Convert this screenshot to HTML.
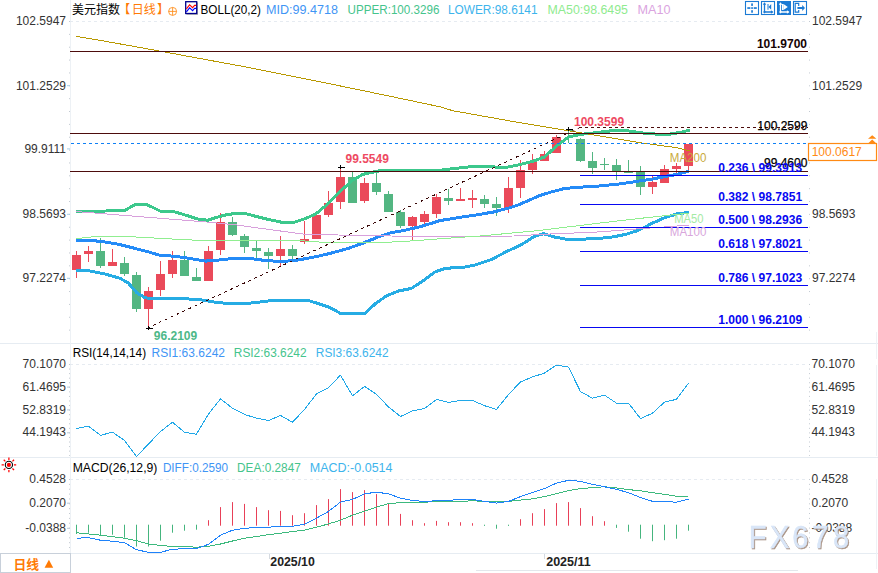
<!DOCTYPE html><html><head><meta charset="utf-8"><title>chart</title><style>html,body{margin:0;padding:0;background:#fff;}body{width:878px;height:573px;overflow:hidden;font-family:"Liberation Sans",sans-serif;}</style></head><body><svg width="878" height="573" viewBox="0 0 878 573" style="display:block">
<rect width="878" height="573" fill="#ffffff"/>
<line x1="0" y1="343.5" x2="878" y2="343.5" stroke="#e6ecf2" stroke-width="1"/>
<line x1="0" y1="457.5" x2="878" y2="457.5" stroke="#e6ecf2" stroke-width="1"/>
<line x1="0" y1="553.5" x2="878" y2="553.5" stroke="#e6ecf2" stroke-width="1"/>
<line x1="70.5" y1="0" x2="70.5" y2="573" stroke="#edf1f5" stroke-width="1"/>
<rect x="876" y="332" width="1" height="27" fill="#eef2f6"/>
<rect x="876" y="365" width="1" height="91" fill="#eef2f6"/>
<rect x="876" y="479" width="1" height="90" fill="#eef2f6"/>
<line x1="69.5" y1="21" x2="69.5" y2="342" stroke="#c3cad2" stroke-width="1" stroke-dasharray="1 11.86"/>
<line x1="69.5" y1="364" x2="69.5" y2="456" stroke="#c3cad2" stroke-width="1" stroke-dasharray="1 3.56"/>
<line x1="69.5" y1="479" x2="69.5" y2="552" stroke="#c3cad2" stroke-width="1" stroke-dasharray="1 3.86"/>
<line x1="809.5" y1="21" x2="809.5" y2="342" stroke="#c3cad2" stroke-width="1" stroke-dasharray="1 11.86"/>
<line x1="809.5" y1="364" x2="809.5" y2="456" stroke="#c3cad2" stroke-width="1" stroke-dasharray="1 3.56"/>
<line x1="809.5" y1="479" x2="809.5" y2="552" stroke="#c3cad2" stroke-width="1" stroke-dasharray="1 3.86"/>
<line x1="70" y1="21.5" x2="808" y2="21.5" stroke="#e6ebf1" stroke-width="1" stroke-dasharray="3 3"/>
<line x1="70" y1="364.5" x2="808" y2="364.5" stroke="#e6ebf1" stroke-width="1" stroke-dasharray="3 3"/>
<line x1="70" y1="479.5" x2="808" y2="479.5" stroke="#e6ebf1" stroke-width="1" stroke-dasharray="3 3"/>
<text x="66" y="25.3" fill="#333333" font-size="12" font-weight="normal" text-anchor="end" font-family="'Liberation Sans', sans-serif" >102.5947</text>
<text x="812" y="25.3" fill="#333333" font-size="12" font-weight="normal" text-anchor="start" font-family="'Liberation Sans', sans-serif" >102.5947</text>
<text x="66" y="89.5" fill="#333333" font-size="12" font-weight="normal" text-anchor="end" font-family="'Liberation Sans', sans-serif" >101.2529</text>
<text x="812" y="89.5" fill="#333333" font-size="12" font-weight="normal" text-anchor="start" font-family="'Liberation Sans', sans-serif" >101.2529</text>
<line x1="67" y1="85.7" x2="70" y2="85.7" stroke="#a8cfe8" stroke-width="1"/>
<text x="66" y="152.70000000000002" fill="#333333" font-size="12" font-weight="normal" text-anchor="end" font-family="'Liberation Sans', sans-serif" >99.9111</text>
<text x="812" y="152.70000000000002" fill="#333333" font-size="12" font-weight="normal" text-anchor="start" font-family="'Liberation Sans', sans-serif" >99.9111</text>
<line x1="67" y1="148.9" x2="70" y2="148.9" stroke="#a8cfe8" stroke-width="1"/>
<text x="66" y="218.10000000000002" fill="#333333" font-size="12" font-weight="normal" text-anchor="end" font-family="'Liberation Sans', sans-serif" >98.5693</text>
<text x="812" y="218.10000000000002" fill="#333333" font-size="12" font-weight="normal" text-anchor="start" font-family="'Liberation Sans', sans-serif" >98.5693</text>
<line x1="67" y1="214.3" x2="70" y2="214.3" stroke="#a8cfe8" stroke-width="1"/>
<text x="66" y="282.1" fill="#333333" font-size="12" font-weight="normal" text-anchor="end" font-family="'Liberation Sans', sans-serif" >97.2274</text>
<text x="812" y="282.1" fill="#333333" font-size="12" font-weight="normal" text-anchor="start" font-family="'Liberation Sans', sans-serif" >97.2274</text>
<line x1="67" y1="278.3" x2="70" y2="278.3" stroke="#a8cfe8" stroke-width="1"/>
<text x="66" y="368.1" fill="#333333" font-size="12" font-weight="normal" text-anchor="end" font-family="'Liberation Sans', sans-serif" >70.1070</text>
<text x="811.5" y="368.1" fill="#333333" font-size="12" font-weight="normal" text-anchor="start" font-family="'Liberation Sans', sans-serif" >70.1070</text>
<text x="66" y="390.7" fill="#333333" font-size="12" font-weight="normal" text-anchor="end" font-family="'Liberation Sans', sans-serif" >61.4695</text>
<text x="811.5" y="390.7" fill="#333333" font-size="12" font-weight="normal" text-anchor="start" font-family="'Liberation Sans', sans-serif" >61.4695</text>
<line x1="67" y1="387.1" x2="70" y2="387.1" stroke="#b9c9d8" stroke-width="1"/>
<text x="66" y="413.5" fill="#333333" font-size="12" font-weight="normal" text-anchor="end" font-family="'Liberation Sans', sans-serif" >52.8319</text>
<text x="811.5" y="413.5" fill="#333333" font-size="12" font-weight="normal" text-anchor="start" font-family="'Liberation Sans', sans-serif" >52.8319</text>
<line x1="67" y1="409.9" x2="70" y2="409.9" stroke="#b9c9d8" stroke-width="1"/>
<text x="66" y="436.40000000000003" fill="#333333" font-size="12" font-weight="normal" text-anchor="end" font-family="'Liberation Sans', sans-serif" >44.1943</text>
<text x="811.5" y="436.40000000000003" fill="#333333" font-size="12" font-weight="normal" text-anchor="start" font-family="'Liberation Sans', sans-serif" >44.1943</text>
<line x1="67" y1="432.8" x2="70" y2="432.8" stroke="#b9c9d8" stroke-width="1"/>
<text x="66" y="483.0" fill="#333333" font-size="12" font-weight="normal" text-anchor="end" font-family="'Liberation Sans', sans-serif" >0.4528</text>
<text x="811.5" y="483.0" fill="#333333" font-size="12" font-weight="normal" text-anchor="start" font-family="'Liberation Sans', sans-serif" >0.4528</text>
<text x="66" y="506.8" fill="#333333" font-size="12" font-weight="normal" text-anchor="end" font-family="'Liberation Sans', sans-serif" >0.2070</text>
<text x="811.5" y="506.8" fill="#333333" font-size="12" font-weight="normal" text-anchor="start" font-family="'Liberation Sans', sans-serif" >0.2070</text>
<line x1="67" y1="503.2" x2="70" y2="503.2" stroke="#b9c9d8" stroke-width="1"/>
<text x="66" y="531.9" fill="#333333" font-size="12" font-weight="normal" text-anchor="end" font-family="'Liberation Sans', sans-serif" >-0.0388</text>
<text x="811.5" y="531.9" fill="#333333" font-size="12" font-weight="normal" text-anchor="start" font-family="'Liberation Sans', sans-serif" >-0.0388</text>
<line x1="67" y1="528.3" x2="70" y2="528.3" stroke="#b9c9d8" stroke-width="1"/>
<rect x="76" y="251" width="1" height="27" fill="#ea4a5a"/>
<rect x="72" y="255" width="9" height="15" fill="#ea4a5a"/>
<rect x="88" y="246" width="1" height="16" fill="#ea4a5a"/>
<rect x="84" y="251" width="9" height="3" fill="#ea4a5a"/>
<rect x="100" y="238" width="1" height="30" fill="#53b682"/>
<rect x="96" y="251" width="9" height="15" fill="#53b682"/>
<rect x="112" y="249" width="1" height="17" fill="#ea4a5a"/>
<rect x="108" y="262" width="9" height="4" fill="#ea4a5a"/>
<rect x="124" y="257" width="1" height="19" fill="#53b682"/>
<rect x="120" y="263" width="9" height="11" fill="#53b682"/>
<rect x="136" y="272" width="1" height="40" fill="#53b682"/>
<rect x="132" y="275" width="9" height="34" fill="#53b682"/>
<rect x="148" y="287" width="1" height="41" fill="#ea4a5a"/>
<rect x="144" y="291" width="9" height="18" fill="#ea4a5a"/>
<rect x="160" y="261" width="1" height="35" fill="#ea4a5a"/>
<rect x="156" y="274" width="9" height="16" fill="#ea4a5a"/>
<rect x="172" y="251" width="1" height="27" fill="#ea4a5a"/>
<rect x="168" y="260" width="9" height="14" fill="#ea4a5a"/>
<rect x="184" y="251" width="1" height="25" fill="#53b682"/>
<rect x="180" y="260" width="9" height="16" fill="#53b682"/>
<rect x="196" y="268" width="1" height="13" fill="#53b682"/>
<rect x="192" y="277" width="9" height="4" fill="#53b682"/>
<rect x="208" y="246" width="1" height="35" fill="#ea4a5a"/>
<rect x="204" y="251" width="9" height="30" fill="#ea4a5a"/>
<rect x="220" y="213" width="1" height="42" fill="#ea4a5a"/>
<rect x="216" y="222" width="9" height="28" fill="#ea4a5a"/>
<rect x="232" y="217" width="1" height="19" fill="#53b682"/>
<rect x="228" y="222" width="9" height="13" fill="#53b682"/>
<rect x="244" y="234" width="1" height="19" fill="#53b682"/>
<rect x="240" y="236" width="9" height="11" fill="#53b682"/>
<rect x="256" y="240" width="1" height="18" fill="#53b682"/>
<rect x="252" y="248" width="9" height="3" fill="#53b682"/>
<rect x="268" y="248" width="1" height="21" fill="#53b682"/>
<rect x="264" y="252" width="9" height="4" fill="#53b682"/>
<rect x="280" y="236" width="1" height="31" fill="#ea4a5a"/>
<rect x="276" y="249" width="9" height="7" fill="#ea4a5a"/>
<rect x="292" y="245" width="1" height="15" fill="#53b682"/>
<rect x="288" y="249" width="9" height="7" fill="#53b682"/>
<rect x="304" y="221" width="1" height="23" fill="#ea4a5a"/>
<rect x="300" y="239" width="9" height="3" fill="#ea4a5a"/>
<rect x="316" y="215" width="1" height="24" fill="#ea4a5a"/>
<rect x="312" y="215" width="9" height="24" fill="#ea4a5a"/>
<rect x="328" y="191" width="1" height="26" fill="#ea4a5a"/>
<rect x="324" y="203" width="9" height="12" fill="#ea4a5a"/>
<rect x="340" y="168" width="1" height="41" fill="#ea4a5a"/>
<rect x="336" y="177" width="9" height="25" fill="#ea4a5a"/>
<rect x="352" y="172" width="1" height="31" fill="#53b682"/>
<rect x="348" y="177" width="9" height="26" fill="#53b682"/>
<rect x="364" y="178" width="1" height="25" fill="#ea4a5a"/>
<rect x="360" y="183" width="9" height="18" fill="#ea4a5a"/>
<rect x="376" y="172" width="1" height="23" fill="#53b682"/>
<rect x="372" y="183" width="9" height="9" fill="#53b682"/>
<rect x="388" y="191" width="1" height="21" fill="#53b682"/>
<rect x="384" y="194" width="9" height="18" fill="#53b682"/>
<rect x="400" y="210" width="1" height="18" fill="#53b682"/>
<rect x="396" y="212" width="9" height="14" fill="#53b682"/>
<rect x="412" y="216" width="1" height="25" fill="#ea4a5a"/>
<rect x="408" y="217" width="9" height="9" fill="#ea4a5a"/>
<rect x="424" y="211" width="1" height="13" fill="#ea4a5a"/>
<rect x="420" y="214" width="9" height="8" fill="#ea4a5a"/>
<rect x="436" y="194" width="1" height="24" fill="#ea4a5a"/>
<rect x="432" y="197" width="9" height="17" fill="#ea4a5a"/>
<rect x="448" y="189" width="1" height="16" fill="#53b682"/>
<rect x="444" y="198" width="9" height="3" fill="#53b682"/>
<rect x="460" y="188" width="1" height="13" fill="#ea4a5a"/>
<rect x="456" y="199" width="9" height="2" fill="#ea4a5a"/>
<rect x="472" y="190" width="1" height="18" fill="#ea4a5a"/>
<rect x="468" y="198" width="9" height="2" fill="#ea4a5a"/>
<rect x="484" y="195" width="1" height="13" fill="#53b682"/>
<rect x="480" y="199" width="9" height="5" fill="#53b682"/>
<rect x="496" y="197" width="1" height="19" fill="#53b682"/>
<rect x="492" y="204" width="9" height="4" fill="#53b682"/>
<rect x="508" y="177" width="1" height="36" fill="#ea4a5a"/>
<rect x="504" y="188" width="9" height="20" fill="#ea4a5a"/>
<rect x="520" y="160" width="1" height="38" fill="#ea4a5a"/>
<rect x="516" y="170" width="9" height="18" fill="#ea4a5a"/>
<rect x="532" y="154" width="1" height="20" fill="#ea4a5a"/>
<rect x="528" y="161" width="9" height="9" fill="#ea4a5a"/>
<rect x="544" y="151" width="1" height="10" fill="#ea4a5a"/>
<rect x="540" y="154" width="9" height="7" fill="#ea4a5a"/>
<rect x="556" y="135" width="1" height="18" fill="#ea4a5a"/>
<rect x="552" y="137" width="9" height="16" fill="#ea4a5a"/>
<rect x="568" y="128" width="1" height="15" fill="#53b682"/>
<rect x="564" y="130" width="9" height="1" fill="#53b682"/>
<rect x="580" y="138" width="1" height="24" fill="#53b682"/>
<rect x="576" y="139" width="9" height="22" fill="#53b682"/>
<rect x="592" y="152" width="1" height="22" fill="#53b682"/>
<rect x="588" y="161" width="9" height="7" fill="#53b682"/>
<rect x="604" y="158" width="1" height="12" fill="#53b682"/>
<rect x="600" y="164" width="9" height="1" fill="#53b682"/>
<rect x="616" y="159" width="1" height="21" fill="#53b682"/>
<rect x="612" y="165" width="9" height="6" fill="#53b682"/>
<rect x="628" y="160" width="1" height="13" fill="#53b682"/>
<rect x="624" y="172" width="9" height="1" fill="#53b682"/>
<rect x="640" y="166" width="1" height="29" fill="#53b682"/>
<rect x="636" y="172" width="9" height="15" fill="#53b682"/>
<rect x="652" y="176" width="1" height="18" fill="#ea4a5a"/>
<rect x="648" y="182" width="9" height="5" fill="#ea4a5a"/>
<rect x="664" y="165" width="1" height="18" fill="#ea4a5a"/>
<rect x="660" y="169" width="9" height="14" fill="#ea4a5a"/>
<rect x="676" y="163" width="1" height="10" fill="#ea4a5a"/>
<rect x="672" y="166" width="9" height="3" fill="#ea4a5a"/>
<rect x="688" y="144" width="1" height="27" fill="#ea4a5a"/>
<rect x="684" y="144" width="9" height="22" fill="#ea4a5a"/>
<polyline points="75.8,270.3 89.2,270.8 105.0,274.0 119.7,278.2 128.3,283.0 136.8,292.8 144.2,297.2 150.3,298.9 168.6,298.4 188.0,298.9 202.8,300.1 216.0,302.4 229.7,303.6 250.2,303.1 275.2,300.2 307.1,300.2 318.5,303.6 329.9,307.5 340.1,313.2 365.2,313.2 375.5,303.6 386.9,295.6 398.2,291.1 411.4,288.4 422.8,280.9 435.3,271.8 445.6,268.3 463.8,267.2 475.2,264.9 491.1,259.7 507.1,251.3 520.7,245.1 534.4,236.4 543.5,233.7 554.9,237.1 566.3,239.2 582.2,239.2 600.0,238.3 613.7,236.8 625.9,234.3 638.1,230.5 652.8,223.0 664.4,217.8 676.6,214.0 689.0,212.3" fill="none" stroke="#26ace4" stroke-width="3" stroke-linejoin="round" stroke-linecap="butt" shape-rendering="crispEdges" />
<polyline points="75.8,241.0 90.4,240.3 105.0,242.0 119.7,244.5 136.8,248.9 149.0,252.0 158.8,255.0 173.5,256.2 188.0,258.1 205.2,261.1 217.4,260.2 230.7,258.7 250.2,258.5 263.8,260.3 277.5,261.4 293.4,260.8 311.7,257.6 329.9,253.5 347.9,248.5 362.6,243.3 378.2,237.0 390.4,232.9 405.1,230.2 419.7,226.8 432.0,223.1 439.3,220.7 458.8,217.5 475.9,215.0 493.0,212.1 507.7,208.4 517.4,205.3 528.2,200.6 540.4,195.3 552.6,191.6 564.9,188.4 579.5,187.2 599.0,186.0 618.6,184.1 638.1,181.2 652.8,179.0 667.4,176.0 676.0,174.6 689.0,171.2" fill="none" stroke="#248bf7" stroke-width="3" stroke-linejoin="round" stroke-linecap="butt" shape-rendering="crispEdges" />
<polyline points="75.8,211.4 106.3,211.0 124.6,210.4 135.6,204.4 146.6,204.4 160.0,211.0 173.5,211.5 188.0,215.9 197.9,219.0 207.7,220.3 217.4,217.1 228.2,214.3 242.9,213.0 252.6,215.5 267.3,219.2 282.0,222.3 294.2,222.2 306.4,218.2 316.2,213.6 325.9,205.5 335.7,195.7 343.0,188.8 352.8,180.1 362.6,174.5 369.9,172.7 380.7,170.6 402.6,170.6 439.3,170.3 453.9,168.6 471.0,166.7 488.1,166.7 502.8,167.4 508.5,167.0 520.5,164.4 532.5,161.4 544.5,157.0 556.5,146.0 568.5,137.0 580.5,134.4 592.5,133.1 613.7,130.5 625.9,130.5 643.0,133.0 657.7,134.2 669.3,134.2 681.5,132.2 690.0,130.0" fill="none" stroke="#3cc88c" stroke-width="3" stroke-linejoin="round" stroke-linecap="butt" shape-rendering="crispEdges" />
<polyline points="75.8,211.5 212.6,222.5 236.5,225.0 264.9,228.9 307.1,234.6 376.0,235.5 416.0,236.8 513.9,236.0 545.8,234.2 600.0,231.9 640.0,228.7 671.8,226.5 689.0,225.0" fill="none" stroke="#d8a0dc" stroke-width="1" stroke-linejoin="round" stroke-linecap="butt" shape-rendering="crispEdges" />
<polyline points="75.8,238.6 100.2,236.1 129.5,236.6 163.7,238.6 212.6,241.0 289.3,240.3 309.0,241.2 323.0,242.3 346.0,242.6 376.0,242.4 400.0,241.8 434.2,239.2 479.7,236.0 536.7,230.8 600.0,223.0 640.0,218.4 689.0,213.0" fill="none" stroke="#90ee90" stroke-width="1" stroke-linejoin="round" stroke-linecap="butt" shape-rendering="crispEdges" />
<polyline points="76.5,36.4 101.0,40.5 157.1,50.6 248.2,67.4 321.1,82.0 386.0,95.4 440.0,106.8 452.7,110.7 516.0,122.0 568.0,130.7 640.0,142.7 676.0,147.6 690.0,151.0" fill="none" stroke="#b89800" stroke-width="1" stroke-linejoin="round" stroke-linecap="butt" shape-rendering="crispEdges" />
<rect x="70" y="51" width="738" height="1" fill="#4d0c0c"/>
<rect x="70" y="133" width="738" height="1" fill="#4d0c0c"/>
<rect x="70" y="171" width="738" height="1" fill="#4d0c0c"/>
<line x1="71" y1="143.5" x2="808" y2="143.5" stroke="#0f80f5" stroke-width="1" stroke-dasharray="3 3" shape-rendering="crispEdges"/>
<line x1="148.5" y1="327.5" x2="568.5" y2="132.9" stroke="#3a0808" stroke-width="1" stroke-dasharray="3 3.56" stroke-dashoffset="1.9" shape-rendering="crispEdges"/>
<path d="M572.4 130.6L574.6 131.2M577.8 129L579.2 127.6" stroke="#4d0c0c" stroke-width="1" fill="none"/>
<line x1="579" y1="127.5" x2="808" y2="127.5" stroke="#4d0c0c" stroke-width="1" stroke-dasharray="3 3" shape-rendering="crispEdges"/>
<rect x="146" y="328" width="7" height="1" fill="#000"/><rect x="148" y="326" width="1" height="4" fill="#000"/>
<rect x="338" y="167" width="7" height="1" fill="#000"/><rect x="340" y="165" width="1" height="4" fill="#000"/>
<rect x="566" y="129" width="7" height="1" fill="#000"/><rect x="568" y="127" width="1" height="4" fill="#000"/>
<rect x="580" y="175" width="228" height="1" fill="#0808f2"/>
<rect x="580" y="204" width="228" height="1" fill="#0808f2"/>
<rect x="580" y="227" width="228" height="1" fill="#0808f2"/>
<rect x="580" y="251" width="228" height="1" fill="#0808f2"/>
<rect x="580" y="285" width="228" height="1" fill="#0808f2"/>
<rect x="580" y="327" width="228" height="1" fill="#0808f2"/>
<text x="807" y="47.6" fill="#140303" font-size="12" font-weight="bold" text-anchor="end" font-family="'Liberation Sans', sans-serif" >101.9700</text>
<text x="807.4" y="129.7" fill="#000" font-size="12" font-weight="normal" text-anchor="end" font-family="'Liberation Sans', sans-serif" stroke="#000" stroke-width="0.25">100.2599</text>
<text x="807.4" y="167.2" fill="#000" font-size="12" font-weight="normal" text-anchor="end" font-family="'Liberation Sans', sans-serif" stroke="#000" stroke-width="0.25">99.4600</text>
<text x="718.3" y="171.8" fill="#0808f2" font-size="12" font-weight="bold" text-anchor="start" font-family="'Liberation Sans', sans-serif" textLength="83.8" lengthAdjust="spacingAndGlyphs" xml:space="preserve">0.236 &#92; 99.3913</text>
<text x="718.3" y="200.8" fill="#0808f2" font-size="12" font-weight="bold" text-anchor="start" font-family="'Liberation Sans', sans-serif" textLength="83.8" lengthAdjust="spacingAndGlyphs" xml:space="preserve">0.382 &#92; 98.7851</text>
<text x="718.3" y="223.8" fill="#0808f2" font-size="12" font-weight="bold" text-anchor="start" font-family="'Liberation Sans', sans-serif" textLength="83.8" lengthAdjust="spacingAndGlyphs" xml:space="preserve">0.500 &#92; 98.2936</text>
<text x="718.3" y="247.8" fill="#0808f2" font-size="12" font-weight="bold" text-anchor="start" font-family="'Liberation Sans', sans-serif" textLength="83.8" lengthAdjust="spacingAndGlyphs" xml:space="preserve">0.618 &#92; 97.8021</text>
<text x="718.3" y="281.8" fill="#0808f2" font-size="12" font-weight="bold" text-anchor="start" font-family="'Liberation Sans', sans-serif" textLength="83.8" lengthAdjust="spacingAndGlyphs" xml:space="preserve">0.786 &#92; 97.1023</text>
<text x="718.3" y="323.8" fill="#0808f2" font-size="12" font-weight="bold" text-anchor="start" font-family="'Liberation Sans', sans-serif" textLength="83.8" lengthAdjust="spacingAndGlyphs" xml:space="preserve">1.000 &#92; 96.2109</text>
<text x="574" y="125.6" fill="#ee4a62" font-size="12" font-weight="bold" text-anchor="start" font-family="'Liberation Sans', sans-serif" >100.3599</text>
<text x="345.5" y="163.4" fill="#ee4a62" font-size="12" font-weight="bold" text-anchor="start" font-family="'Liberation Sans', sans-serif" >99.5549</text>
<text x="153.8" y="339.8" fill="#4db888" font-size="12" font-weight="bold" text-anchor="start" font-family="'Liberation Sans', sans-serif" >96.2109</text>
<text x="669.8" y="162.3" fill="#c8aa3c" font-size="12" font-weight="normal" text-anchor="start" font-family="'Liberation Sans', sans-serif" textLength="36.6" lengthAdjust="spacingAndGlyphs" >MA200</text>
<text x="674.2" y="223.4" fill="#a5eaa5" font-size="12" font-weight="normal" text-anchor="start" font-family="'Liberation Sans', sans-serif" textLength="29.3" lengthAdjust="spacingAndGlyphs" >MA50</text>
<text x="669.8" y="236" fill="#d8a6dc" font-size="12" font-weight="normal" text-anchor="start" font-family="'Liberation Sans', sans-serif" textLength="36.6" lengthAdjust="spacingAndGlyphs" >MA100</text>
<rect x="808.5" y="143.5" width="68" height="17" fill="#fff" stroke="#ff8a14" stroke-width="1.2"/>
<text x="811.7" y="155.6" fill="#ff8a14" font-size="12" font-weight="normal" text-anchor="start" font-family="'Liberation Sans', sans-serif" >100.0617</text>
<path d="M872.2 135.2L876.4 138.8H868zM872.2 139.6L876.4 143.4H868z" fill="#ff8a14"/>
<text x="72 84 96 108" y="14.2" fill="#000" font-size="12" font-weight="normal" text-anchor="start" font-family="'Liberation Sans', 'Noto Sans CJK SC', sans-serif">美元指数</text>
<text x="118.3 131.7 143.7 157" y="14.2" fill="#ff7a05" font-size="12" font-weight="normal" text-anchor="start" font-family="'Liberation Sans', 'Noto Sans CJK SC', sans-serif">【日线】</text>
<g stroke="#ff8a14" stroke-width="0.85" fill="none"><circle cx="172.6" cy="11.4" r="4.0"/><path d="M168.6 11.4H176.6M172.6 7.4V15.4"/></g>
<rect x="186.4" y="2.4" width="11.6" height="12.4" fill="#a8a8a8"/>
<rect x="185.7" y="1.7" width="11" height="11.8" fill="#fff" stroke="#00008b" stroke-width="1.3"/>
<polyline points="186.4,8.8 189.6,4.8 192.6,7.6 194.6,5.4 196.2,5.4" fill="none" stroke="#f00" stroke-width="1.1"/>
<polyline points="186.4,11.8 189.6,7.8 192.6,10.6 194.6,8.4 196.2,8.4" fill="none" stroke="#00f" stroke-width="1.1"/>
<text x="200.5" y="14.3" fill="#000" font-size="12" font-weight="normal" text-anchor="start" font-family="'Liberation Sans', sans-serif" textLength="60.5" lengthAdjust="spacingAndGlyphs" >BOLL(20,2)</text>
<text x="266" y="14.3" fill="#3f95f5" font-size="12" font-weight="normal" text-anchor="start" font-family="'Liberation Sans', sans-serif" textLength="72" lengthAdjust="spacingAndGlyphs" >MID:99.4718</text>
<text x="347.5" y="14.3" fill="#45c48c" font-size="12" font-weight="normal" text-anchor="start" font-family="'Liberation Sans', sans-serif" textLength="92" lengthAdjust="spacingAndGlyphs" >UPPER:100.3296</text>
<text x="448" y="14.3" fill="#3db4ec" font-size="12" font-weight="normal" text-anchor="start" font-family="'Liberation Sans', sans-serif" textLength="89.5" lengthAdjust="spacingAndGlyphs" >LOWER:98.6141</text>
<text x="547.5" y="14.3" fill="#8feb8f" font-size="12" font-weight="normal" text-anchor="start" font-family="'Liberation Sans', sans-serif" textLength="80.5" lengthAdjust="spacingAndGlyphs" >MA50:98.6495</text>
<text x="637.5" y="14.3" fill="#dba4df" font-size="12" font-weight="normal" text-anchor="start" font-family="'Liberation Sans', sans-serif" textLength="33" lengthAdjust="spacingAndGlyphs" >MA10</text>
<rect x="745.5" y="1.5" width="13" height="13" fill="#fff" stroke="#1b7ad4" stroke-width="1.1"/>
<g fill="#1b7ad4"><rect x="751.2" y="7.2" width="1.7" height="1.7"/><rect x="747.3" y="7.2" width="3.1" height="1.7"/><rect x="753.7" y="7.2" width="3.1" height="1.7"/><rect x="751.2" y="3.4" width="1.7" height="2.5"/><rect x="751.2" y="10.2" width="1.7" height="2.5"/></g>
<rect x="761.5" y="1.5" width="13" height="13" fill="#fff" stroke="#1b7ad4" stroke-width="1.1"/>
<g stroke="#1b7ad4" stroke-width="1.3" fill="none"><path d="M764.5 3.2V12H772.5"/></g><path d="M764.5 2.2L766.2 4.8H762.8z M773.5 12L770.9 10.3V13.7z M762.9 12L764.9 10.6V13.4z M764.5 13.6L763.0 11.6H766.0z" fill="#1b7ad4"/>
<path d="M767.5 4.1H768.5V9.7H767.5z M768.6 6.9L771.2 4.1V9.7z" fill="#1b7ad4"/>
<rect x="777" y="1" width="14" height="14" fill="#1b7ad4"/>
<g stroke="#fff" stroke-width="1.3" fill="none"><path d="M780.5 3.2V12H788.5"/></g><path d="M780.5 2.2L782.2 4.8H778.8z M789.5 12L786.9 10.3V13.7z M778.9 12L780.9 10.6V13.4z M780.5 13.6L779.0 11.6H782.0z" fill="#fff"/>
<path d="M782 4.1H783.3V9.9H782z M783.5 3.9L787.8 7L783.5 10.1z" fill="#fff"/>
<rect x="793.5" y="1.5" width="13" height="13" fill="#fff" stroke="#1b7ad4" stroke-width="1.1"/>
<path d="M798.7 6V3.4H795.2V12.2H798.7V10" stroke="#1b7ad4" stroke-width="1.2" fill="none"/><path d="M797.4 7H802.2V5L805 8L802.2 11V9H797.4z" fill="#1b7ad4"/>
<text x="72.7" y="357" fill="#000" font-size="12" font-weight="normal" text-anchor="start" font-family="'Liberation Sans', sans-serif" textLength="73.4" lengthAdjust="spacingAndGlyphs" >RSI(14,14,14)</text>
<text x="151.6" y="357" fill="#3f95f5" font-size="12" font-weight="normal" text-anchor="start" font-family="'Liberation Sans', sans-serif" textLength="73.4" lengthAdjust="spacingAndGlyphs" >RSI1:63.6242</text>
<text x="233.8" y="357" fill="#45c48c" font-size="12" font-weight="normal" text-anchor="start" font-family="'Liberation Sans', sans-serif" textLength="72.7" lengthAdjust="spacingAndGlyphs" >RSI2:63.6242</text>
<text x="315.8" y="357" fill="#3db4ec" font-size="12" font-weight="normal" text-anchor="start" font-family="'Liberation Sans', sans-serif" textLength="72.7" lengthAdjust="spacingAndGlyphs" >RSI3:63.6242</text>
<polyline points="76.5,428.5 88.5,426.2 100.5,435.3 112.5,432.2 124.5,440.3 136.5,456.6 148.5,444.0 160.5,431.5 172.5,422.2 184.5,432.2 196.5,434.2 208.5,414.0 220.5,398.9 232.5,408.2 244.5,414.4 256.5,418.2 268.5,420.5 280.5,415.5 292.5,422.2 304.5,409.4 316.5,393.9 328.5,387.6 340.5,375.1 352.5,395.9 364.5,386.4 376.5,394.4 388.5,406.9 400.5,416.5 412.5,410.9 424.5,408.4 436.5,399.4 448.5,402.4 460.5,400.4 472.5,400.4 484.5,405.7 496.5,409.4 508.5,394.6 520.5,381.9 532.5,376.9 544.5,373.1 556.5,365.1 568.5,367.1 580.5,391.6 592.5,398.2 604.5,395.2 616.5,403.1 628.5,403.1 640.5,418.6 652.5,413.2 664.5,402.1 676.5,399.3 688.5,383.1" fill="none" stroke="#20a8e8" stroke-width="1" stroke-linejoin="round" stroke-linecap="butt" shape-rendering="crispEdges" />
<text x="72.7" y="472" fill="#000" font-size="12" font-weight="normal" text-anchor="start" font-family="'Liberation Sans', sans-serif" textLength="84.7" lengthAdjust="spacingAndGlyphs" >MACD(26,12,9)</text>
<text x="162.9" y="472" fill="#3f95f5" font-size="12" font-weight="normal" text-anchor="start" font-family="'Liberation Sans', sans-serif" textLength="65.1" lengthAdjust="spacingAndGlyphs" >DIFF:0.2590</text>
<text x="237.1" y="472" fill="#45c48c" font-size="12" font-weight="normal" text-anchor="start" font-family="'Liberation Sans', sans-serif" textLength="63.7" lengthAdjust="spacingAndGlyphs" >DEA:0.2847</text>
<text x="309.8" y="472" fill="#3db4ec" font-size="12" font-weight="normal" text-anchor="start" font-family="'Liberation Sans', sans-serif" textLength="82.7" lengthAdjust="spacingAndGlyphs" >MACD:-0.0514</text>
<rect x="76" y="524.7" width="1" height="9.3" fill="#45b57e"/>
<rect x="88" y="524.7" width="1" height="8.0" fill="#45b57e"/>
<rect x="100" y="524.7" width="1" height="10.5" fill="#45b57e"/>
<rect x="112" y="524.7" width="1" height="10.0" fill="#45b57e"/>
<rect x="124" y="524.7" width="1" height="13.0" fill="#45b57e"/>
<rect x="136" y="524.7" width="1" height="21.8" fill="#45b57e"/>
<rect x="148" y="524.7" width="1" height="21.8" fill="#45b57e"/>
<rect x="160" y="524.7" width="1" height="16.0" fill="#45b57e"/>
<rect x="172" y="524.7" width="1" height="8.0" fill="#45b57e"/>
<rect x="184" y="524.7" width="1" height="6.0" fill="#45b57e"/>
<rect x="196" y="524.7" width="1" height="5.0" fill="#45b57e"/>
<rect x="208" y="520.2" width="1" height="5.5" fill="#e84058"/>
<rect x="220" y="507.1" width="1" height="18.6" fill="#e84058"/>
<rect x="232" y="502.1" width="1" height="23.6" fill="#e84058"/>
<rect x="244" y="503.9" width="1" height="21.8" fill="#e84058"/>
<rect x="256" y="507.1" width="1" height="18.6" fill="#e84058"/>
<rect x="268" y="510.2" width="1" height="15.5" fill="#e84058"/>
<rect x="280" y="510.9" width="1" height="14.8" fill="#e84058"/>
<rect x="292" y="515.2" width="1" height="10.5" fill="#e84058"/>
<rect x="304" y="513.2" width="1" height="12.5" fill="#e84058"/>
<rect x="316" y="505.1" width="1" height="20.6" fill="#e84058"/>
<rect x="328" y="499.1" width="1" height="26.6" fill="#e84058"/>
<rect x="340" y="489.1" width="1" height="36.6" fill="#e84058"/>
<rect x="352" y="492.1" width="1" height="33.6" fill="#e84058"/>
<rect x="364" y="490.1" width="1" height="35.6" fill="#e84058"/>
<rect x="376" y="494.1" width="1" height="31.6" fill="#e84058"/>
<rect x="388" y="503.1" width="1" height="22.6" fill="#e84058"/>
<rect x="400" y="513.9" width="1" height="11.8" fill="#e84058"/>
<rect x="412" y="520.2" width="1" height="5.5" fill="#e84058"/>
<rect x="424" y="523.2" width="1" height="2.5" fill="#e84058"/>
<rect x="436" y="520.9" width="1" height="4.8" fill="#e84058"/>
<rect x="448" y="522.2" width="1" height="3.5" fill="#e84058"/>
<rect x="460" y="522.2" width="1" height="3.5" fill="#e84058"/>
<rect x="472" y="523.2" width="1" height="2.5" fill="#e84058"/>
<rect x="484" y="524.7" width="1" height="1.2" fill="#45b57e"/>
<rect x="496" y="524.7" width="1" height="4.0" fill="#45b57e"/>
<rect x="508" y="524.7" width="1" height="1.2" fill="#45b57e"/>
<rect x="520" y="519.2" width="1" height="6.5" fill="#e84058"/>
<rect x="532" y="513.2" width="1" height="12.5" fill="#e84058"/>
<rect x="544" y="509.1" width="1" height="16.6" fill="#e84058"/>
<rect x="556" y="503.1" width="1" height="22.6" fill="#e84058"/>
<rect x="568" y="502.1" width="1" height="23.6" fill="#e84058"/>
<rect x="580" y="508.1" width="1" height="17.6" fill="#e84058"/>
<rect x="592" y="516.2" width="1" height="9.5" fill="#e84058"/>
<rect x="604" y="521.2" width="1" height="4.5" fill="#e84058"/>
<rect x="616" y="524.7" width="1" height="3.2" fill="#45b57e"/>
<rect x="628" y="524.7" width="1" height="7.0" fill="#45b57e"/>
<rect x="640" y="524.7" width="1" height="14.0" fill="#45b57e"/>
<rect x="652" y="524.7" width="1" height="16.5" fill="#45b57e"/>
<rect x="664" y="524.7" width="1" height="15.5" fill="#45b57e"/>
<rect x="676" y="524.7" width="1" height="14.0" fill="#45b57e"/>
<rect x="688" y="524.7" width="1" height="6.0" fill="#45b57e"/>
<polyline points="76.5,532.7 88.5,534.0 100.5,535.2 112.5,536.7 124.5,538.2 136.5,540.7 148.5,544.0 160.5,545.5 172.5,546.5 184.5,546.5 196.5,547.2 208.5,546.3 220.5,544.0 232.5,541.0 244.5,538.2 256.5,536.5 268.5,534.7 280.5,533.2 292.5,531.5 304.5,530.2 316.5,527.2 328.5,523.9 340.5,520.2 352.5,515.2 364.5,511.2 376.5,507.1 388.5,503.6 400.5,502.6 412.5,502.1 424.5,502.1 436.5,501.8 448.5,501.4 460.5,501.2 472.5,500.9 484.5,501.2 496.5,501.4 508.5,501.4 520.5,500.1 532.5,498.9 544.5,496.6 556.5,493.6 568.5,490.6 580.5,488.6 592.5,487.6 604.5,486.8 616.5,488.0 628.5,489.6 640.5,490.8 652.5,492.7 664.5,494.3 676.5,496.2 688.5,496.5" fill="none" stroke="#3cb97d" stroke-width="1" stroke-linejoin="round" stroke-linecap="butt" shape-rendering="crispEdges" />
<polyline points="76.5,538.2 88.5,537.7 100.5,540.2 112.5,541.2 124.5,542.7 136.5,549.7 148.5,552.3 160.5,552.3 172.5,549.2 184.5,548.8 196.5,548.5 208.5,544.3 220.5,535.2 232.5,530.2 244.5,528.4 256.5,527.4 268.5,527.2 280.5,526.4 292.5,526.2 304.5,524.4 316.5,518.2 328.5,511.4 340.5,502.1 352.5,499.4 364.5,493.9 376.5,492.1 388.5,493.9 400.5,498.1 412.5,500.4 424.5,501.6 436.5,500.6 448.5,500.4 460.5,499.4 472.5,499.4 484.5,501.4 496.5,503.1 508.5,501.4 520.5,496.6 532.5,492.6 544.5,488.6 556.5,483.1 568.5,480.3 580.5,481.3 592.5,484.3 604.5,486.8 616.5,489.3 628.5,492.7 640.5,497.5 652.5,501.3 664.5,501.6 676.5,502.2 688.5,499.1" fill="none" stroke="#1e82fa" stroke-width="1" stroke-linejoin="round" stroke-linecap="butt" shape-rendering="crispEdges" />
<path d="M13.90 464.90L16.20 464.90M12.44 468.44L14.06 470.06M8.90 469.90L8.90 472.20M5.36 468.44L3.74 470.06M3.90 464.90L1.60 464.90M5.36 461.36L3.74 459.74M8.90 459.90L8.90 457.60M12.44 461.36L14.06 459.74" stroke="#ff0000" stroke-width="1.25" fill="none"/>
<circle cx="8.9" cy="464.9" r="3.6" fill="#fff" stroke="#000" stroke-width="1.1"/><circle cx="8.9" cy="464.9" r="2.1" fill="#ff0000"/>
<rect x="0.5" y="553.5" width="70" height="19" fill="#fff" stroke="#c8d0da" stroke-width="1"/>
<text x="13.4 26.3" y="569.1" fill="#ff7a05" font-size="12.8" font-weight="bold" text-anchor="start" font-family="'Liberation Sans', 'Noto Sans CJK SC', sans-serif">日线</text>
<path d="M48.9 559.8L53.2 567.8H44.6z" fill="#ff7a05"/>
<line x1="269.5" y1="554" x2="269.5" y2="559" stroke="#d5dae0"/>
<line x1="544.5" y1="554" x2="544.5" y2="559" stroke="#d5dae0"/>
<text x="270.3" y="565.8" fill="#222" font-size="12" font-weight="bold" text-anchor="start" font-family="'Liberation Sans', sans-serif" textLength="44.5" lengthAdjust="spacingAndGlyphs" >2025/10</text>
<text x="546.2" y="565.8" fill="#222" font-size="12" font-weight="bold" text-anchor="start" font-family="'Liberation Sans', sans-serif" textLength="44.5" lengthAdjust="spacingAndGlyphs" >2025/11</text>
<line x1="476" y1="570.5" x2="798" y2="570.5" stroke="#e3e7ec" stroke-width="1"/>
<g style="filter:drop-shadow(1px 1px 0.5px rgba(160,135,120,0.9))"><text transform="scale(0.95 1)" x="788.2 810.5 833.9 855.1 876.9" y="547.9" font-family="'Liberation Sans', sans-serif" font-size="30.6" fill="#d9e6f8" stroke="#d9e6f8" stroke-width="0.5">FX678</text></g>
</svg></body></html>
